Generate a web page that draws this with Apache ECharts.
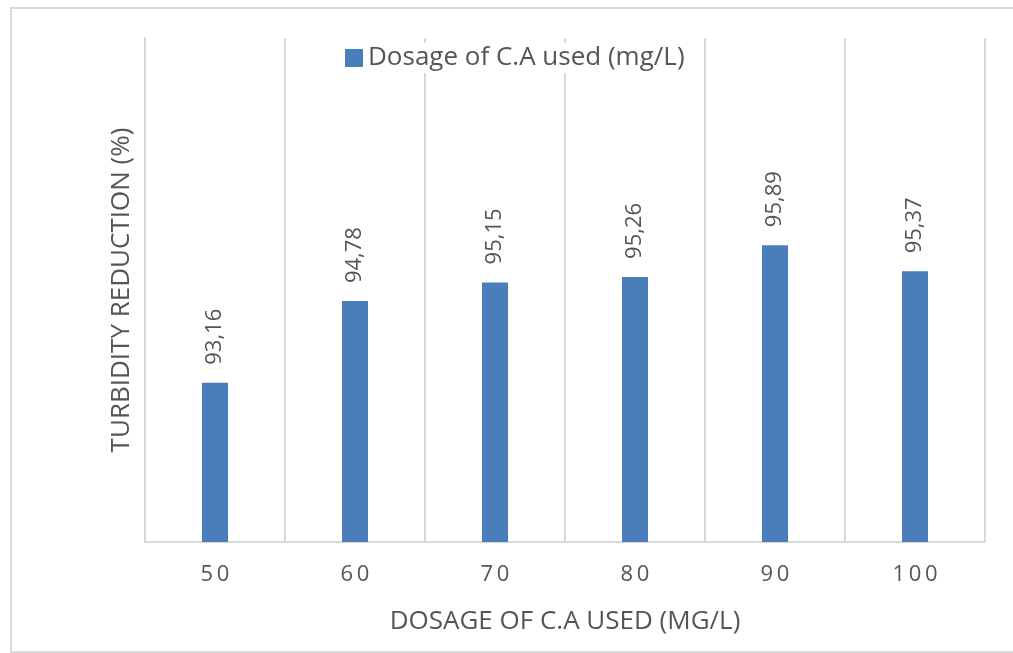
<!DOCTYPE html>
<html>
<head>
<meta charset="utf-8">
<script src="https://cdn.jsdelivr.net/npm/echarts@6/dist/echarts.min.js"></script>
<style>
  html, body { margin: 0; padding: 0; background: #ffffff; }
  #chart { width: 1013px; height: 653px; }
</style>
</head>
<body>
<div id="chart"></div>
<script>
// Dosage categories (mg/L) and turbidity reduction (%)
const dosages = ['50', '60', '70', '80', '90', '100'];
const reduction = [93.16, 94.78, 95.15, 95.26, 95.89, 95.37];
const seriesName = 'Dosage of C.A used (mg/L)';
const xTitle = 'DOSAGE OF C.A USED (MG/L)';
const yTitle = 'TURBIDITY REDUCTION (%)';

const FONT = 'Open Sans';
const TEXT = '#555555';
const LINE = '#d9d9d9';

// spread the digits of the category labels a little apart
const spaced = s => s.split('').join('\u2009');

const chart = echarts.init(document.getElementById('chart'), null, { renderer: 'canvas' });

chart.setOption({
  backgroundColor: '#ffffff',
  animation: false,
  textStyle: { fontFamily: FONT, color: TEXT },
  graphic: [{
    type: 'rect',
    shape: { x: 11, y: 8, width: 1020, height: 644 },
    style: { fill: 'none', stroke: LINE, lineWidth: 2 },
    z: -1
  }],
  legend: {
    top: 43,
    left: 341,
    itemWidth: 18,
    itemHeight: 18,
    itemGap: 9,
    padding: [2, 4],
    backgroundColor: '#ffffff',
    icon: 'rect',
    textStyle: { fontFamily: FONT, fontSize: 26, color: TEXT },
    data: [seriesName]
  },
  grid: { left: 145, right: 28, top: 38, bottom: 111, containLabel: false },
  xAxis: {
    type: 'category',
    data: dosages,
    name: xTitle,
    nameLocation: 'middle',
    nameGap: 67,
    nameTextStyle: { fontFamily: FONT, fontSize: 26, color: TEXT },
    axisLine: { show: true, lineStyle: { color: LINE, width: 2 } },
    axisTick: { show: false },
    axisLabel: { margin: 22, fontFamily: FONT, fontSize: 22, color: TEXT, formatter: spaced },
    splitLine: { show: true, lineStyle: { color: LINE, width: 2 } }
  },
  yAxis: {
    type: 'value',
    min: 90,
    max: 100,
    name: yTitle,
    nameLocation: 'middle',
    nameGap: 10,
    nameRotate: 90,
    nameTextStyle: { fontFamily: FONT, fontSize: 26, color: TEXT },
    axisLine: { show: true, lineStyle: { color: LINE, width: 2 } },
    axisTick: { show: false },
    axisLabel: { show: false },
    splitLine: { show: false }
  },
  series: [{
    name: seriesName,
    type: 'bar',
    data: reduction,
    barWidth: 26,
    itemStyle: { color: '#4a7ebb' },
    label: {
      show: true,
      position: 'top',
      rotate: 90,
      align: 'left',
      verticalAlign: 'middle',
      distance: 18,
      fontFamily: FONT,
      fontSize: 22,
      color: TEXT,
      formatter: p => p.value.toFixed(2).replace('.', ',')
    }
  }]
});
</script>
</body>
</html>
